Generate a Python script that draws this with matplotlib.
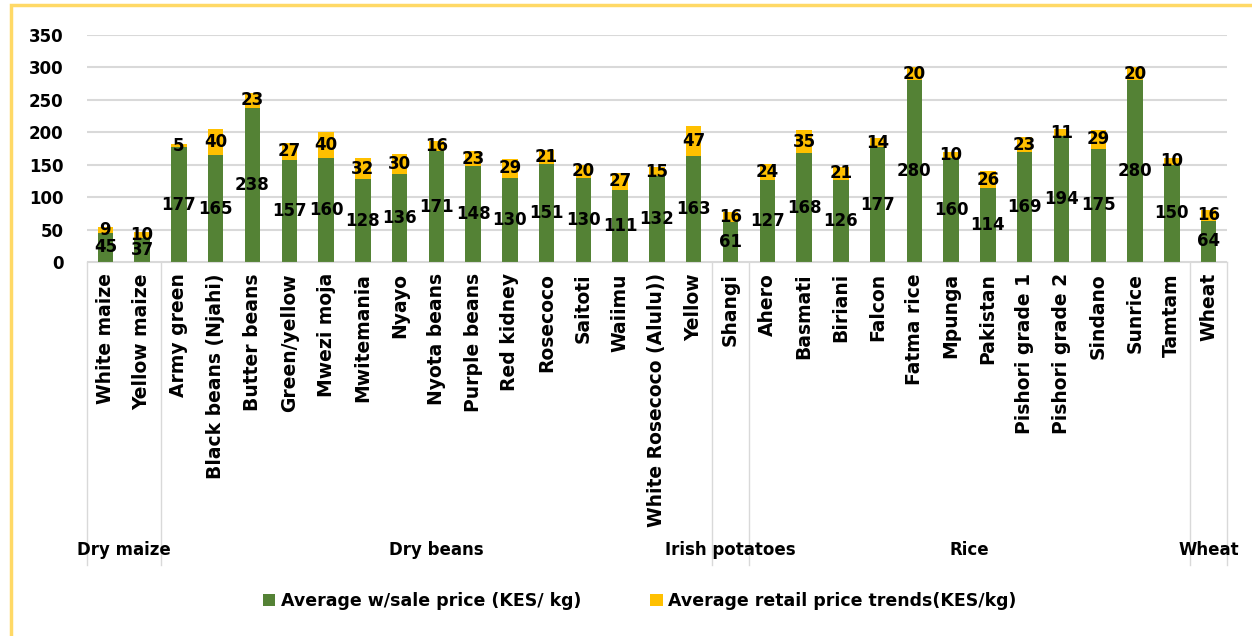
import matplotlib.pyplot as plt
from matplotlib.patches import Rectangle
from matplotlib.transforms import blended_transform_factory

plt.rcParams['font.family'] = 'DejaVu Sans'

# crop varieties in chart order
crops = ["White maize", "Yellow maize",
         "Army green", "Black beans (Njahi)", "Butter beans", "Green/yellow",
         "Mwezi moja", "Mwitemania", "Nyayo", "Nyota beans", "Purple beans",
         "Red kidney", "Rosecoco", "Saitoti", "Waiimu", "White Rosecoco (Alulu))",
         "Yellow",
         "Shangi",
         "Ahero", "Basmati", "Biriani", "Falcon", "Fatma rice", "Mpunga",
         "Pakistan", "Pishori grade 1", "Pishori grade 2", "Sindano", "Sunrice",
         "Tamtam",
         "Wheat"]
wholesale = [45, 37,
             177, 165, 238, 157, 160, 128, 136, 171, 148, 130, 151, 130, 111, 132, 163,
             61,
             127, 168, 126, 177, 280, 160, 114, 169, 194, 175, 280, 150,
             64]
retail = [9, 10,
          5, 40, 23, 27, 40, 32, 30, 16, 23, 29, 21, 20, 27, 15, 47,
          16,
          24, 35, 21, 14, 20, 10, 26, 23, 11, 29, 20, 10,
          16]
groups = ["Dry maize", "Dry beans", "Irish potatoes", "Rice", "Wheat"]
group_sizes = [2, 15, 1, 12, 1]

green = "#548235"
yellow = "#FFC000"
grid_col = "#D9D9D9"
fs = 12

fig = plt.figure(figsize=(12.52, 6.36), dpi=100)
ax = fig.add_axes([0.0695, 0.588, 0.9105, 0.357])

x = list(range(len(crops)))
b1 = ax.bar(x, wholesale, width=0.42, color=green,
            label="Average w/sale price (KES/ kg)")
b2 = ax.bar(x, retail, bottom=wholesale, width=0.42, color=yellow,
            label="Average retail price trends(KES/kg)")
ax.bar_label(b1, label_type="center", fontsize=fs, fontweight="bold")
ax.bar_label(b2, label_type="center", fontsize=fs, fontweight="bold")

ax.set_xlim(-0.5, len(crops) - 0.5)
ax.set_ylim(0, 350)
ax.set_yticks(range(0, 351, 50))
ax.grid(axis="y", color=grid_col, lw=1.5)
ax.set_axisbelow(True)
for s in ["top", "right", "left"]:
    ax.spines[s].set_visible(False)
ax.spines["bottom"].set_color(grid_col)
ax.tick_params(axis="y", length=0, pad=17, labelsize=fs)
for t in ax.get_yticklabels():
    t.set_fontweight("bold")
ax.set_xticks(x)
ax.set_xticklabels(crops, rotation=90, va="top", ha="center",
                   fontsize=13.5, fontweight="bold")
ax.tick_params(axis="x", length=0, pad=8)

# group separators and group names
trans = blended_transform_factory(ax.transData, fig.transFigure)
start = 0
bounds = [-0.5]
for name, n in zip(groups, group_sizes):
    ax.text(start + (n - 1) / 2, 0.135, name, transform=trans, ha="center",
            va="center", fontsize=fs, fontweight="bold")
    start += n
    bounds.append(start - 0.5)
for b in bounds:
    ax.plot([b, b], [0.588, 0.112], transform=trans, color=grid_col, lw=1,
            clip_on=False)

fig.legend(handles=[b1, b2], loc="center", bbox_to_anchor=(0.511, 0.055),
           ncol=2, frameon=False, handlelength=0.7, handleheight=0.7,
           handletextpad=0.3, columnspacing=4,
           prop={"size": 12.5, "weight": "bold"})

# light yellow frame around the chart
fig.patches.append(Rectangle((0.009, -0.1), 1.2, 1.092, transform=fig.transFigure,
                             fill=False, edgecolor="#FFD966", lw=2.5))

fig.savefig("out.png", dpi=100)
